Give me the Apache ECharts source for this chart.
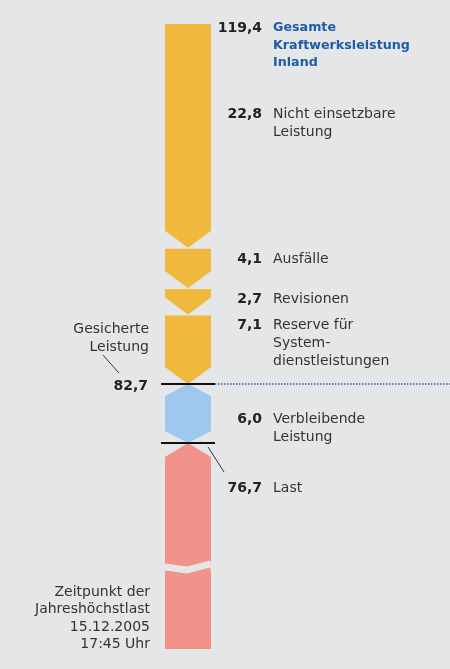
<!DOCTYPE html>
<html>
<head>
<meta charset="utf-8">
<script src="https://cdn.jsdelivr.net/npm/echarts@6.0.0/dist/echarts.min.js"></script>
<style>
html, body { margin: 0; padding: 0; background: #e5e6e7; }
#chart { width: 450px; height: 669px; }
</style>
</head>
<body>
<div id="chart"></div>
<script>
// 数据：发电能力拆分（GW）
var totalValue = 119.4;
var totalLabel = ['Gesamte', 'Kraftwerksleistung', 'Inland'];
var segNames = [
    ['Nicht einsetzbare', 'Leistung'],
    ['Ausfälle'],
    ['Revisionen'],
    ['Reserve für', 'System-', 'dienstleistungen'],
    ['Verbleibende', 'Leistung'],
    ['Last']
];
var segValues = [22.8, 4.1, 2.7, 7.1, 6.0, 76.7];
var securedValue = 82.7;
var securedLabel = ['Gesicherte', 'Leistung'];
var peakLabel = ['Zeitpunkt der', 'Jahreshöchstlast', '15.12.2005', '17:45 Uhr'];
var axisBreak = [8.06, 64.46];

// 样式
var segShapes = ['down', 'down', 'down', 'down', 'hex', 'roof'];
var segColors = ['#f0b83c', '#f0b83c', '#f0b83c', '#f0b83c', '#9ec8ee', '#f1928b'];
var labelDy = [94, 16, 15, 15, 39, 49];
var FONT = 'DejaVu Sans';
var TEXT = '#333333';

function fmt(v) {
    return v.toFixed(1).replace('.', ',');
}

// 文本：按基线定位
function textAt(x, baseline, lines, opt) {
    var lh = opt.lineHeight || 18;
    return {
        type: 'text',
        x: x,
        y: baseline - lh / 2 - 4,
        style: {
            text: lines.join('\n'),
            fill: opt.color || TEXT,
            fontFamily: FONT,
            fontSize: opt.size || 14,
            fontWeight: opt.bold ? 'bold' : 'normal',
            align: opt.align || 'left',
            verticalAlign: 'top',
            lineHeight: lh
        }
    };
}

function line(x1, y1, x2, y2, style) {
    return {type: 'line', shape: {x1: x1, y1: y1, x2: x2, y2: y2}, style: style};
}

// 累计区间
var segData = [];
var cur = totalValue;
for (var i = 0; i < segValues.length; i++) {
    segData.push([i, cur, cur - segValues[i]]);
    cur = cur - segValues[i];
}

function renderSeg(params, api) {
    var i = api.value(0);
    var yTop = api.coord([0, api.value(1)])[1];
    var yBot = api.coord([0, api.value(2)])[1];
    var cs = params.coordSys;
    var x0 = cs.x, x1 = cs.x + cs.width, xm = (x0 + x1) / 2;
    var shape = segShapes[i];
    var pts;
    if (shape === 'down') {
        var g = i > 0 ? 1 : 0;
        pts = [[x0, yTop + g], [x1, yTop + g], [x1, yBot - 17], [xm, yBot], [x0, yBot - 17]];
    } else if (shape === 'hex') {
        pts = [[xm, yTop], [x1, yTop + 12], [x1, yBot - 12], [xm, yBot], [x0, yBot - 12], [x0, yTop + 12]];
    } else {
        pts = [[xm, yTop], [x1, yTop + 14], [x1, yBot], [x0, yBot], [x0, yTop + 14]];
    }
    var children = [{
        type: 'polygon',
        shape: {points: pts},
        style: {fill: segColors[i]}
    }];
    var base = yTop + labelDy[i];
    children.push(textAt(x1 + 51, base, [fmt(segValues[i])], {bold: true, align: 'right', color: '#222'}));
    children.push(textAt(x1 + 62, base, segNames[i], {}));
    if (shape === 'roof') {
        children.push(line(x1 - 3, yTop + 4, x1 + 13, yTop + 29, {stroke: '#333', lineWidth: 1}));
    }
    return {type: 'group', children: children};
}

// 边界线与左侧注释
function renderMarks(params, api) {
    var cs = params.coordSys;
    var x0 = cs.x, x1 = cs.x + cs.width;
    var yTop = api.coord([0, totalValue])[1];
    var ySec = api.coord([0, securedValue])[1];
    var yLast = api.coord([0, securedValue - segValues[4]])[1];
    var yZero = api.coord([0, 0])[1];
    var children = [
        line(x1 + 4, ySec, api.getWidth(), ySec, {stroke: '#2d5fae', lineWidth: 1.5, lineDash: [1.5, 1.5]}),
        line(x0 - 4, ySec, x1 + 4, ySec, {stroke: '#111', lineWidth: 2}),
        line(x0 - 4, yLast, x1 + 4, yLast, {stroke: '#111', lineWidth: 2}),
        textAt(x0 - 17, ySec + 6, [fmt(securedValue)], {bold: true, align: 'right', color: '#222'}),
        textAt(x0 - 16, ySec - 51, securedLabel, {align: 'right'}),
        line(x0 - 62, ySec - 29, x0 - 46, ySec - 11, {stroke: '#333', lineWidth: 1}),
        textAt(x0 - 15, yZero - 53, peakLabel, {align: 'right', lineHeight: 17.5}),
        textAt(x1 + 51, yTop + 8, [fmt(totalValue)], {bold: true, align: 'right', color: '#222'}),
        textAt(x1 + 62, yTop + 8, totalLabel, {bold: true, size: 12.7, color: '#1c5ca8', lineHeight: 17.5})
    ];
    return {type: 'group', children: children};
}

var chart = echarts.init(document.getElementById('chart'));
chart.setOption({
    backgroundColor: '#e5e6e7',
    animation: false,
    grid: {
        left: 165,
        right: 239,
        top: 24,
        bottom: 20,
        outerBoundsMode: 'none'
    },
    xAxis: {
        type: 'value',
        min: 0,
        max: 1,
        show: false
    },
    yAxis: {
        type: 'value',
        min: 0,
        max: totalValue,
        axisLine: {show: false},
        axisTick: {show: false},
        axisLabel: {show: false},
        splitLine: {show: false},
        breaks: [{start: axisBreak[0], end: axisBreak[1], gap: 0.7}],
        breakArea: {
            show: true,
            itemStyle: {color: '#e5e6e7', borderColor: '#e5e6e7', borderWidth: 0, opacity: 1},
            zigzagAmplitude: 3,
            zigzagMinSpan: 22,
            zigzagMaxSpan: 24,
            zigzagZ: 100,
            expandOnClick: false
        }
    },
    series: [
        {
            type: 'custom',
            name: 'Leistung',
            renderItem: renderSeg,
            data: segData,
            z: 2
        },
        {
            type: 'custom',
            name: 'Grenzen',
            renderItem: renderMarks,
            data: [[0]],
            z: 3
        }
    ]
});
</script>
</body>
</html>
